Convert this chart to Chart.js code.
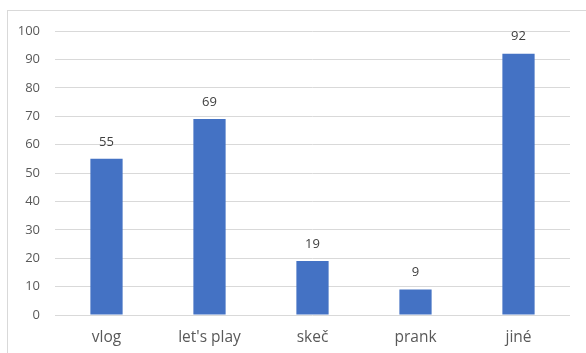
<!DOCTYPE html>
<html lang="cs">
<head>
    <meta charset="UTF-8">
    <title>Typy videí</title>
    <script src="https://cdn.jsdelivr.net/npm/chart.js"></script>
    <style>
        body, html {
            margin: 0;
            background: #fff;
        }
        #wrap {
            width: 586px;
            height: 353px;
        }
    </style>
</head>
<body>
    <div id="wrap"><canvas id="videoChart"></canvas></div>

    <script>
        const categories = ['vlog', "let's play", 'skeč', 'prank', 'jiné'];
        const counts = [55, 69, 19, 9, 92];
        const yTicks = [0, 10, 20, 30, 40, 50, 60, 70, 80, 90, 100];

        const FONT = "'Open Sans', 'Liberation Sans', sans-serif";

        // light frame around the whole chart
        const framePlugin = {
            id: 'frame',
            beforeDraw(chart) {
                const ctx = chart.ctx;
                ctx.save();
                ctx.fillStyle = '#fff';
                ctx.fillRect(0, 0, chart.width, chart.height);
                ctx.strokeStyle = '#d9d9d9';
                ctx.lineWidth = 1;
                ctx.strokeRect(7.5, 10.5, chart.width + 10, chart.height + 10);
                ctx.restore();
            }
        };

        // value labels above each bar
        const valueLabels = {
            id: 'valueLabels',
            afterDatasetsDraw(chart) {
                const ctx = chart.ctx;
                const meta = chart.getDatasetMeta(0);
                ctx.save();
                ctx.font = '13px ' + FONT;
                ctx.fillStyle = '#404040';
                ctx.textAlign = 'center';
                ctx.textBaseline = 'middle';
                meta.data.forEach((bar, i) => {
                    ctx.fillText(String(counts[i]), bar.x, bar.y - 17);
                });
                ctx.restore();
            }
        };

        new Chart(document.getElementById('videoChart'), {
            type: 'bar',
            data: {
                labels: categories,
                datasets: [{
                    data: counts,
                    backgroundColor: '#4472c4',
                    borderWidth: 0,
                    categoryPercentage: 1,
                    barPercentage: 0.313
                }]
            },
            options: {
                responsive: true,
                maintainAspectRatio: false,
                animation: false,
                layout: { padding: { left: 0, right: 16, top: 31, bottom: 0 } },
                plugins: {
                    legend: { display: false },
                    tooltip: { enabled: false }
                },
                scales: {
                    x: {
                        grid: { display: false, drawTicks: false },
                        border: { display: false },
                        ticks: {
                            padding: 13,
                            color: '#595959',
                            font: { family: FONT, size: 15.5 }
                        },
                        afterFit(scale) { scale.height = 38; }
                    },
                    y: {
                        min: 0,
                        max: 100,
                        afterBuildTicks(scale) {
                            scale.ticks = yTicks.map(v => ({ value: v }));
                        },
                        grid: { color: '#d9d9d9', lineWidth: 1, drawTicks: false },
                        border: { display: false },
                        ticks: {
                            padding: 15,
                            color: '#595959',
                            font: { family: FONT, size: 13 }
                        },
                        afterFit(scale) { scale.width = 55; }
                    }
                }
            },
            plugins: [framePlugin, valueLabels]
        });
    </script>
</body>
</html>
